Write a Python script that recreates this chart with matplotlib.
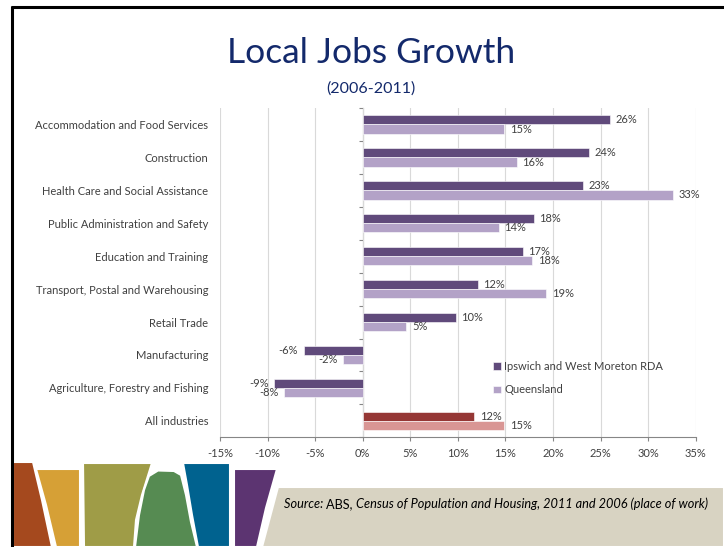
import numpy as np
import matplotlib.pyplot as plt
from matplotlib.patches import Polygon
from matplotlib.ticker import FuncFormatter

plt.rcParams['font.family'] = ['Lato', 'DejaVu Sans']

# data (growth 2006-2011, %)
industries = ['Accommodation and Food Services', 'Construction',
              'Health Care and Social Assistance', 'Public Administration and Safety',
              'Education and Training', 'Transport, Postal and Warehousing',
              'Retail Trade', 'Manufacturing', 'Agriculture, Forestry and Fishing',
              'All industries']
rda = [26.0, 23.8, 23.2, 18.0, 16.8, 12.1, 9.8, -6.2, -9.3, 11.7]
qld = [14.9, 16.2, 32.6, 14.3, 17.8, 19.3, 4.6, -2.1, -8.3, 14.9]
series_names = ['Ipswich and West Moreton RDA', 'Queensland']
xticks = list(range(-15, 36, 5))

W, H = 724, 547
fig = plt.figure(figsize=(W / 100, H / 100), dpi=100)

# slide decoration layer in pixel coords
deco = fig.add_axes([0, 0, 1, 1], zorder=0)
deco.set_xlim(0, W)
deco.set_ylim(H, 0)
deco.axis('off')

deco.plot([11, W], [7, 7], color='black', lw=2.2, solid_capstyle='butt')
deco.plot([12, 12], [6, H], color='black', lw=2.2, solid_capstyle='butt')

shapes = [
    ('#A5491E', [(13, 462), (33, 462), (42, 500), (52, 547), (13, 547)]),
    ('#D6A036', [(36, 469), (80, 469), (80, 547), (56, 547), (46, 505)]),
    ('#9F9C47', [(83, 463), (152, 463), (142, 495), (136, 520), (134, 547), (84, 547)]),
    ('#568B52', [(135, 547), (139, 515), (144, 490), (149, 476), (158, 470.5),
                 (174, 471), (181, 475), (186, 495), (191, 522), (197, 547)]),
    ('#00628F', [(183, 463), (230, 463), (230, 547), (198, 547), (192, 515), (187, 485)]),
    ('#5C3471', [(234, 469), (277, 469), (266, 508), (257, 547), (234, 547)]),
    ('#D8D3C2', [(278, 487), (W, 487), (W, H), (262, H)]),
]
for col, pts in shapes:
    deco.add_patch(Polygon(pts, closed=True, facecolor=col, edgecolor='white', lw=1.5))

src_kw = dict(fontsize=9.2, color='black', va='bottom', ha='left')
t1 = deco.text(284, 510, 'Source: ', style='italic', **src_kw)
t2 = deco.annotate('ABS, ', xy=(1, 0), xycoords=t1, **src_kw)
deco.annotate('Census of Population and Housing, 2011 and 2006 (place of work)',
              xy=(1, 0), xycoords=t2, style='italic', **src_kw)

navy = '#13296B'
fig.text(371 / W, 1 - 63 / H, 'Local Jobs Growth', fontsize=25.5, color=navy,
         ha='center', va='baseline')
fig.text(371 / W, 1 - 93 / H, '(2006-2011)', fontsize=11.5, color=navy,
         ha='center', va='baseline')

# chart
ax = fig.add_axes([220 / W, 1 - 437.3 / H, 475.7 / W, 329.3 / H], zorder=1)
ax.patch.set_alpha(0)
y = np.arange(len(industries))
h = 0.28
rda_cols = ['#953735' if n == 'All industries' else '#604A7B' for n in industries]
qld_cols = ['#D99694' if n == 'All industries' else '#B3A2C7' for n in industries]
b1 = ax.barh(y - h / 2, rda, height=h, color=rda_cols, edgecolor='white', lw=0.4,
             label=series_names[0])
b2 = ax.barh(y + h / 2, qld, height=h, color=qld_cols, edgecolor='white', lw=0.4,
             label=series_names[1])
lab_kw = dict(fontsize=8, color='#404040', padding=4)
ax.bar_label(b1, labels=[f'{v:.0f}%' for v in rda], **lab_kw)
ax.bar_label(b2, labels=[f'{v:.0f}%' for v in qld], **lab_kw)

ax.set_xlim(xticks[0], xticks[-1])
ax.set_ylim(len(industries) - 0.5, -0.5)
ax.set_xticks(xticks)
ax.xaxis.set_major_formatter(FuncFormatter(lambda v, p: f'{v:.0f}%'))
ax.set_yticks(y)
ax.set_yticklabels(industries)
ax.tick_params(axis='y', length=0, pad=8.6, labelsize=8, labelcolor='#404040')
ax.tick_params(axis='x', length=3, color='#868686', labelsize=8,
               labelcolor='#404040', pad=4.5)
ax.grid(axis='x', color='#D9D9D9', lw=0.8)
ax.set_axisbelow(True)
for s in ['top', 'right', 'left']:
    ax.spines[s].set_visible(False)
ax.spines['bottom'].set_color('#868686')

# category axis drawn at 0%
loc = (0 - xticks[0]) / (xticks[-1] - xticks[0])
sec = ax.secondary_yaxis(loc)
sec.set_yticks(np.arange(-0.5, len(industries), 1.0))
sec.set_yticklabels([])
sec.tick_params(length=3, color='#868686')
sec.spines['left'].set_color('#868686')

leg = ax.legend(loc='upper left', bbox_to_anchor=(0.565, 0.245), frameon=False,
                fontsize=8, handlelength=0.7, handleheight=0.7,
                handletextpad=0.3, labelspacing=1.1, borderaxespad=0)
for t in leg.get_texts():
    t.set_color('#404040')

fig.savefig('out.png', dpi=100)
